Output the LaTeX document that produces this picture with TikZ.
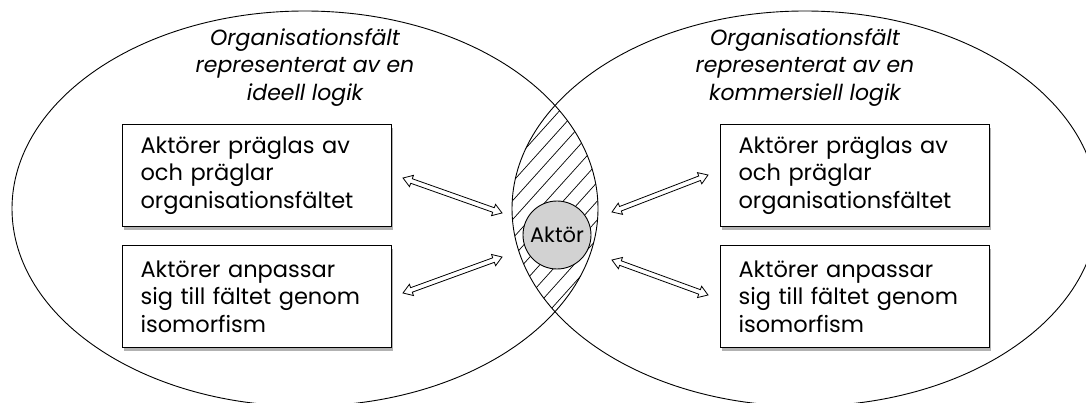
\documentclass[tikz,border=0pt]{standalone}
\usepackage{fontspec}
\setmainfont{Poppins}
\usetikzlibrary{calc,shadows}

% Outlined two-headed block arrow between two named points
\newcommand\twowayarrow[2]{%
  \draw[twoway] (#1)
    -- ($(#1)!9pt!(#2)!6pt!90:(#2)$)
    -- ($(#1)!9pt!(#2)!2.4pt!90:(#2)$)
    -- ($(#2)!9pt!(#1)!2.4pt!-90:(#1)$)
    -- ($(#2)!9pt!(#1)!6pt!-90:(#1)$)
    -- (#2)
    -- ($(#2)!9pt!(#1)!6pt!90:(#1)$)
    -- ($(#2)!9pt!(#1)!2.4pt!90:(#1)$)
    -- ($(#1)!9pt!(#2)!2.4pt!-90:(#2)$)
    -- ($(#1)!9pt!(#2)!6pt!-90:(#2)$)
    -- cycle;}

\begin{document}
\begin{tikzpicture}[x=1pt,y=1pt,
  field/.style={line width=0.9pt},
  fieldtitle/.style={font=\itshape\fontsize{22}{27.5}\selectfont, align=center, inner sep=0pt},
  infobox/.style={draw, line width=1.1pt, fill=white, minimum height=102pt,
    text width=233pt, inner xsep=18pt, align=left, anchor=north west,
    font=\fontsize{22.5}{27.5}\selectfont,
    drop shadow={shadow xshift=1.5pt, shadow yshift=-3pt, opacity=.3, fill=black}},
  hatch/.style={line width=0.7pt},
  actor/.style={circle, draw, line width=0.9pt, fill=gray!35, minimum size=68pt,
    inner sep=0pt, font=\fontsize{21}{22}\selectfont},
  twoway/.style={line width=0.8pt, fill=white, line join=miter}
]
\useasboundingbox (0,0) rectangle (1086,-403);

% the two organisational fields
\coordinate (cL) at (305,-208.6);
\coordinate (cR) at (805,-208.6);
\draw[field] (cL) ellipse [x radius=293, y radius=197.6];
\draw[field] (cR) ellipse [x radius=293, y radius=197.6];

% hatched overlap of the two fields
\begin{scope}
  \clip (cL) ellipse [x radius=293, y radius=197.6];
  \clip (cR) ellipse [x radius=293, y radius=197.6];
  \foreach \k in {-16,...,16}
    \draw[hatch] (557+\k*17,-208) +(228:260) -- +(48:260);
\end{scope}

% field titles
\node[fieldtitle, anchor=north] (tL) at (305,-28)
  {Organisationsfält\\representerat av en\\ideell logik};
\node[fieldtitle, anchor=north] (tR) at (805,-28)
  {Organisationsfält\\representerat av en\\kommersiell logik};

% boxes
\node[infobox] (lb1) at (122,-124) {Aktörer präglas av\\och präglar\\organisationsfältet};
\node[infobox] (lb2) at (122,-245) {Aktörer anpassar\\sig till fältet genom\\isomorfism};
\node[infobox] (rb1) at (720,-124) {Aktörer präglas av\\och präglar\\organisationsfältet};
\node[infobox] (rb2) at (720,-245) {Aktörer anpassar\\sig till fältet genom\\isomorfism};

% the actor in the overlap
\node[actor] (aktor) at (557,-235) {Aktör};

% arrow end points
\coordinate (a1s) at (403,-178); \coordinate (a1e) at (502,-213);
\coordinate (a2s) at (403,-293); \coordinate (a2e) at (502,-257);
\coordinate (a3s) at (612,-212); \coordinate (a3e) at (708,-175);
\coordinate (a4s) at (612,-260); \coordinate (a4e) at (708,-295);

\twowayarrow{a1s}{a1e}
\twowayarrow{a2s}{a2e}
\twowayarrow{a3s}{a3e}
\twowayarrow{a4s}{a4e}
\end{tikzpicture}
\end{document}
